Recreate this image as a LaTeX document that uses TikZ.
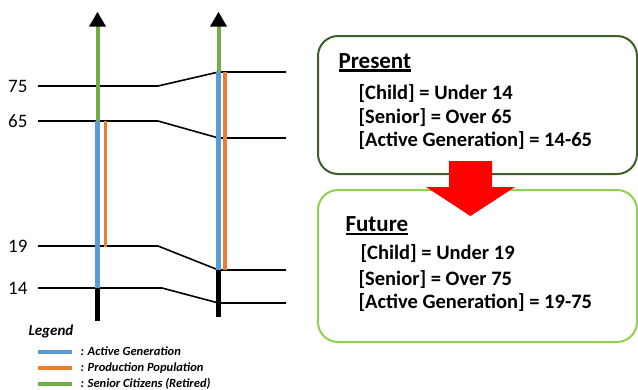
\documentclass[tikz,border=0pt]{standalone}
\usepackage{fontspec}
\setmainfont{Carlito}
\usetikzlibrary{arrows.meta}
\definecolor{activeblue}{HTML}{5B9BD5}
\definecolor{prodorange}{HTML}{ED7D31}
\definecolor{seniorgreen}{HTML}{70AD47}
\definecolor{darkframe}{HTML}{3F5F2A}
\definecolor{lightframe}{HTML}{92D050}
\newcommand{\thickul}[1]{\setbox0\hbox{#1}\rlap{\rule[-3.6pt]{\wd0}{2.5pt}}\box0}

\begin{document}
\begin{tikzpicture}[x=1pt,y=-1pt]

    \tikzset{ageline/.style={line width=1.6pt, line join=round},
             agelabel/.style={anchor=base east, font=\fontsize{19}{19}\selectfont},
             blueline/.style={activeblue, line width=5pt},
             orangeline/.style={prodorange, line width=3.2pt},
             greenline/.style={seniorgreen, line width=4pt},
             childline/.style={black, line width=5pt},
             uparrow/.style={-{Triangle[color=black, fill=black, width=16pt, length=15pt]}},
             infobox/.style={draw, line width=2pt, rounded corners=20pt, minimum width=319pt},
             infotext/.style={anchor=base west, font=\fontsize{20.5}{20.5}\selectfont\bfseries},
             infohead/.style={anchor=base west, font=\fontsize{23}{23}\selectfont\bfseries},
             legendtext/.style={anchor=base west, font=\fontsize{12.5}{12.5}\selectfont\bfseries\itshape}}
    \useasboundingbox (0,0) rectangle (638,389);

    % age levels: label / left y / knee x / right y
    \foreach \lab/\ya/\xk/\yb in {75/86/158/72, 65/121/158/138, 19/246/158/270, 14/288/162/303} {
        \coordinate (p\lab) at (38,\ya);
        \coordinate (k\lab) at (\xk,\ya);
        \coordinate (r\lab) at (218.5,\yb);
        \coordinate (e\lab) at (286,\yb);
        \draw[ageline] (p\lab) -- (k\lab) -- (r\lab) -- (e\lab);
        \node[agelabel] (n\lab) at (31,\ya+6.3) {\lab};
    }

    % present column
    \coordinate (lTip) at (97.5,11.7);
    \coordinate (l65) at (97.5,121);
    \coordinate (l14) at (97.5,288);
    \coordinate (lEnd) at (97.5,321);
    \coordinate (o65) at (105.7,121);
    \coordinate (o19) at (105.7,247);
    \draw[greenline, uparrow] (l65) -- (lTip);
    \draw[blueline] (l65) -- (l14);
    \draw[childline] (l14) -- (lEnd);
    \draw[orangeline] (o65) -- (o19);

    % future column
    \coordinate (rTip) at (218.5,11.7);
    \coordinate (rEnd) at (218.5,317);
    \coordinate (u75) at (225,72);
    \coordinate (u19) at (225,270);
    \draw[greenline, uparrow] (r75) -- (rTip);
    \draw[blueline] (r75) -- (r19);
    \draw[childline] (r19) -- (rEnd);
    \draw[orangeline] (u75) -- (u19);

    % legend
    \node[anchor=base west, font=\fontsize{15}{15}\selectfont\bfseries\itshape] (legend) at (25,335.7) {Legend};
    \foreach \i/\col/\y/\txt in {1/activeblue/352/Active Generation,
                                 2/prodorange/367.5/Production Population,
                                 3/seniorgreen/383.5/Senior Citizens (Retired)} {
        \coordinate (ls\i) at (38,\y);
        \coordinate (le\i) at (72,\y);
        \draw[\col, line width=4pt] (ls\i) -- (le\i);
        \node[legendtext] (lt\i) at (77,\y+3.5) {: \txt};
    }

    % boxes
    \node[infobox, darkframe, minimum height=138pt] (present) at (477.5,105) {};
    \node[infobox, lightframe, minimum height=152pt] (future) at (477.5,266) {};

    \node[infohead] (presenthead) at (335,68.3) {\thickul{Present}};
    \node[infotext] (pchild) at (355,99.3) {[Child] = Under 14};
    \node[infotext] (psenior) at (355,123.3) {[Senior] = Over 65};
    \node[infotext] (pactive) at (355,146.7) {[Active Generation] = 14-65};

    \node[infohead] (futurehead) at (342,231.7) {\thickul{Future}};
    \node[infotext] (fchild) at (357,259) {[Child] = Under 19};
    \node[infotext] (fsenior) at (355,285) {[Senior] = Over 75};
    \node[infotext] (factive) at (355,308) {[Active Generation] = 19-75};

    % red arrow
    \fill[red] (449,161) -- (492,161) -- (492,187) -- (515,187) -- (470.5,216)
               -- (426,187) -- (449,187) -- cycle;

\end{tikzpicture}
\end{document}
